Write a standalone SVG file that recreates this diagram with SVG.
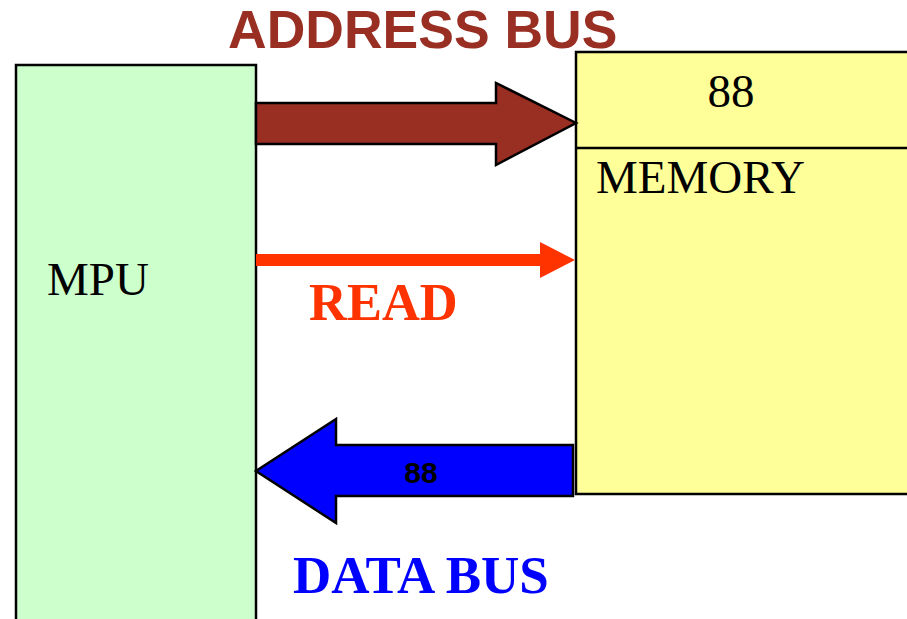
<svg xmlns="http://www.w3.org/2000/svg" width="907" height="619" viewBox="0 0 907 619">
  <style>
    .box { stroke: #000; stroke-width: 2.5; }
    .serif { font-family: "Liberation Serif", "Times New Roman", serif; }
    .sans { font-family: "Liberation Sans", Arial, sans-serif; font-weight: bold; }
    .outline { stroke: #000; stroke-width: 2.5; stroke-linejoin: miter; }
  </style>
  <rect width="907" height="619" fill="#fff"/>

  <!-- MPU block -->
  <g id="mpu">
    <rect class="box" x="16" y="65" width="240" height="570" fill="#CCFFCC"/>
    <text class="serif" x="47" y="295" font-size="47">MPU</text>
  </g>

  <!-- Memory block with its top cell -->
  <g id="memory">
    <rect class="box" x="576" y="52" width="345" height="442" fill="#FFFF99"/>
    <line class="box" x1="576" y1="148" x2="921" y2="148"/>
    <text class="serif" x="731" y="107" font-size="47" text-anchor="middle">88</text>
    <text class="serif" x="596" y="193" font-size="47">MEMORY</text>
  </g>

  <!-- Bus arrows and read line -->
  <g id="connectors">
    <polygon id="address-bus" class="outline" fill="#992E22"
             points="256,103 496,103 496,83 576,123 496,165 496,144 256,144"/>
    <g id="read-line">
      <rect x="256" y="254" width="286" height="12" fill="#FF3300"/>
      <polygon fill="#FF3300" points="540,242 575,260 540,278"/>
    </g>
    <polygon id="data-bus" class="outline" fill="#0000FF"
             points="573,445 336,445 336,419 256,471 336,523 336,496 573,496"/>
  </g>

  <!-- Labels -->
  <g id="labels">
    <text class="sans" x="228" y="48" font-size="53.5" fill="#992E22">ADDRESS BUS</text>
    <text class="serif" x="309" y="320" font-size="52.5" font-weight="bold" fill="#FF3300">READ</text>
    <text class="sans" x="421" y="483" font-size="30" fill="#000" text-anchor="middle">88</text>
    <text class="serif" x="293" y="593" font-size="53" font-weight="bold" fill="#0000FF">DATA BUS</text>
  </g>
</svg>
